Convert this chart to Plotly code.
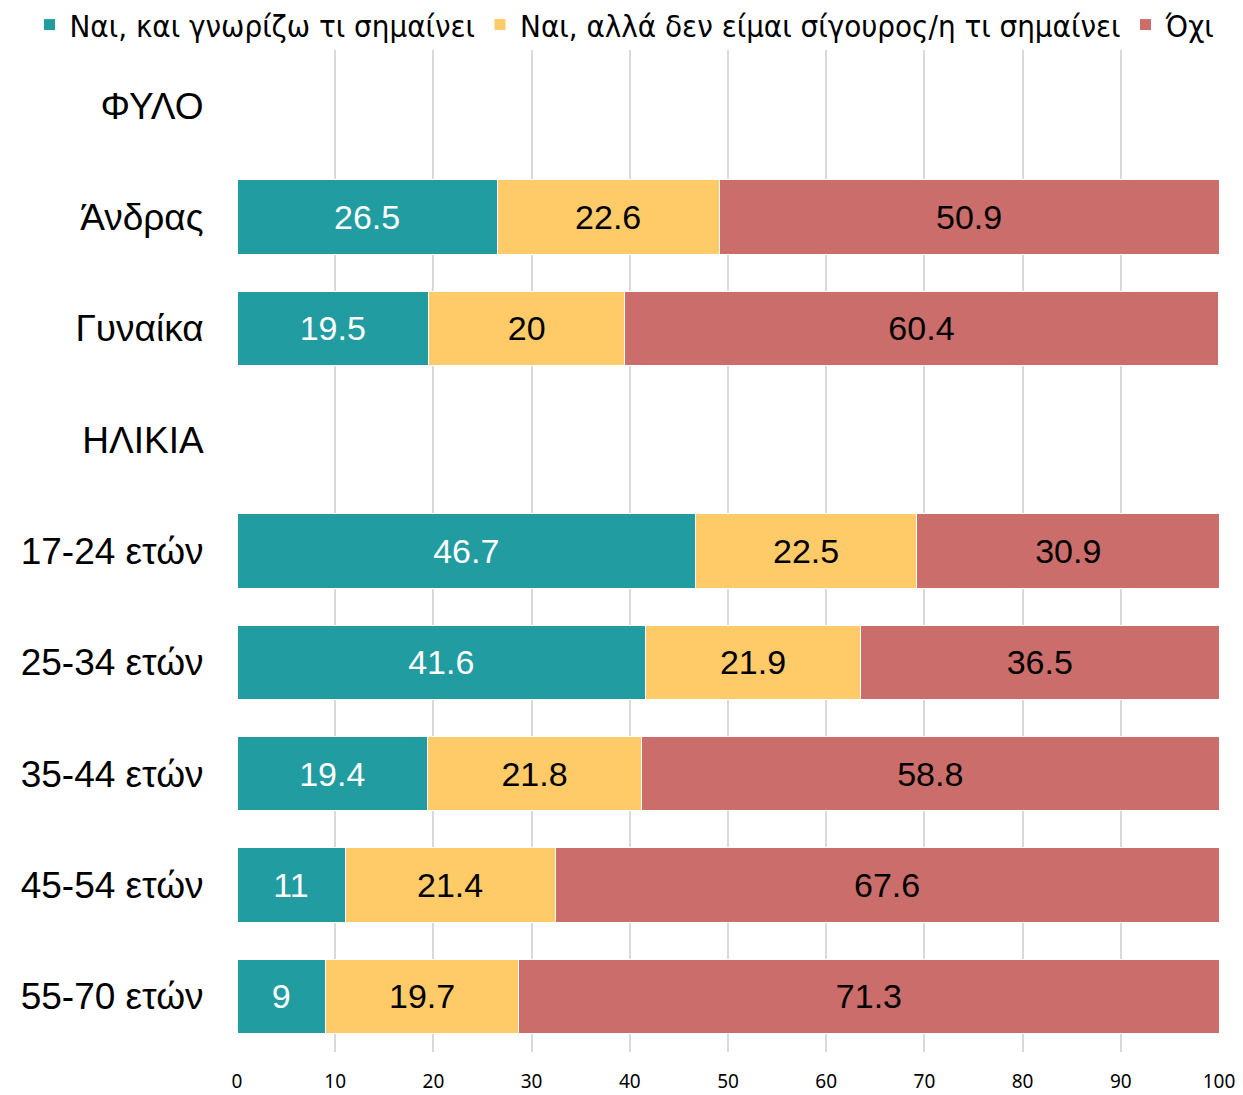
import plotly.graph_objects as go

categories = ["ΦΥΛΟ", "Άνδρας", "Γυναίκα", "ΗΛΙΚΙΑ", "17-24 ετών", "25-34 ετών",
              "35-44 ετών", "45-54 ετών", "55-70 ετών"]
yes_know = [None, 26.5, 19.5, None, 46.7, 41.6, 19.4, 11, 9]
yes_unsure = [None, 22.6, 20, None, 22.5, 21.9, 21.8, 21.4, 19.7]
no = [None, 50.9, 60.4, None, 30.9, 36.5, 58.8, 67.6, 71.3]
series_names = ["Ναι, και γνωρίζω τι σημαίνει", "Ναι, αλλά δεν είμαι σίγουρος/η τι σημαίνει", "Όχι"]
x_ticks = [0, 10, 20, 30, 40, 50, 60, 70, 80, 90, 100]

colors = ["#219CA0", "#FECB68", "#CB6D6A"]
text_colors = ["white", "black", "black"]

fig = go.Figure()
for name, vals, c, tc in zip(series_names, [yes_know, yes_unsure, no], colors, text_colors):
    fig.add_trace(go.Bar(
        y=categories, x=vals, name=name, orientation="h",
        marker=dict(color=c, line=dict(color="white", width=1)),
        text=[("" if v is None else f"{v:g}") for v in vals],
        textposition="inside", insidetextanchor="middle", textangle=0,
        constraintext="none",
        textfont=dict(color=tc, size=34, family="Liberation Sans, Arial"),
        hoverinfo="x+y+name",
    ))

fig.update_layout(
    barmode="stack",
    bargap=0.335,
    width=1243, height=1095,
    margin=dict(l=237, r=24, t=50, b=43, autoexpand=False),
    paper_bgcolor="white", plot_bgcolor="white",
    font=dict(family="Liberation Sans, Arial", color="black"),
    legend=dict(
        orientation="h",
        x=-0.2113, xanchor="left", y=1.025, yanchor="middle",
        font=dict(size=31, family="DejaVu Sans Condensed, DejaVu Sans", color="black"),
        traceorder="normal", itemwidth=30, tracegroupgap=0,
        bgcolor="rgba(0,0,0,0)",
    ),
    showlegend=True,
)
fig.update_xaxes(
    range=[0, 100], tickvals=x_ticks, showgrid=True, gridcolor="#D9D9D9", gridwidth=1.5,
    zeroline=False, showline=False, automargin=False,
    ticks="outside", ticklen=12, tickcolor="rgba(0,0,0,0)",
    tickfont=dict(size=19, family="Noto Sans, Open Sans", color="black"),
)
fig.update_yaxes(
    autorange="reversed", categoryorder="array", categoryarray=categories,
    showgrid=False, zeroline=False, showline=False, automargin=False,
    ticks="outside", ticklen=25, tickcolor="rgba(0,0,0,0)",
    tickfont=dict(size=37, family="Liberation Sans, Arial", color="black"),
)

fig.write_html("out.html", config={"displayModeBar": False},
               post_script="document.body.style.margin='0';")
